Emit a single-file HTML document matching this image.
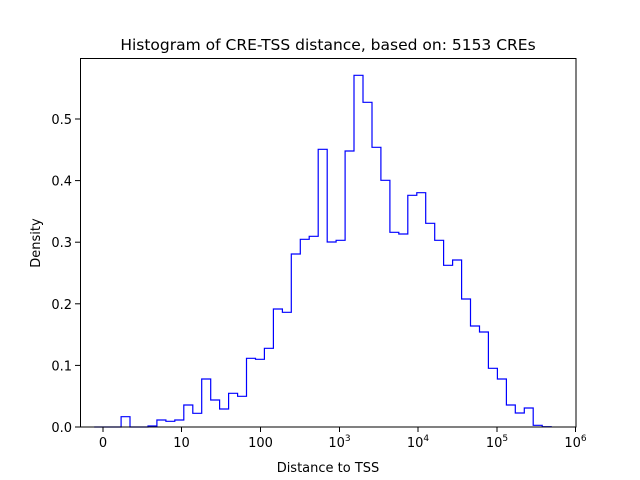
<!DOCTYPE html>
<html><head><meta charset="utf-8"><style>
html,body{margin:0;padding:0;background:#fff;}
svg{display:block;font-family:"DejaVu Sans","Liberation Sans",sans-serif;}
</style></head><body>
<svg width="640" height="480" viewBox="0 0 640 480" xmlns="http://www.w3.org/2000/svg">
<rect width="640" height="480" fill="#fff"/>
<path d="M94.2,427 H121.1 V416.7 H130.0 V427 H148.0 V426 H156.9 V420 H165.9 V421.3 H174.8 V420 H183.8 V405 H192.8 V413.3 H201.7 V379 H210.7 V400 H219.6 V409 H228.6 V393.3 H237.6 V396.3 H246.5 V358.3 H255.5 V359.3 H264.4 V348.3 H273.4 V309 H282.4 V312.3 H291.3 V254 H300.3 V239.3 H309.2 V236.3 H318.2 V149.3 H327.2 V242 H336.1 V240.3 H345.1 V151 H354.0 V75.3 H363.0 V102.3 H372.0 V147.3 H380.9 V180.3 H389.9 V232.3 H398.8 V234 H407.8 V195.3 H416.8 V192.7 H425.7 V223.3 H434.7 V240.3 H443.6 V265.3 H452.6 V260 H461.6 V299 H470.5 V326 H479.5 V332 H488.4 V368.3 H497.4 V379 H506.4 V405 H515.3 V413 H524.3 V408 H533.2 V425.3 H542.2 V426.7 H551.2 V427" fill="none" stroke="#0000ff" stroke-width="1.2"/>
<rect x="80.5" y="58.5" width="495.5" height="368.5" fill="none" stroke="#000" stroke-width="1"/>
<g stroke="#000" stroke-width="1">
<line x1="80" y1="427" x2="75" y2="427"/><line x1="80" y1="365.4" x2="75" y2="365.4"/><line x1="80" y1="303.8" x2="75" y2="303.8"/><line x1="80" y1="242.2" x2="75" y2="242.2"/><line x1="80" y1="180.6" x2="75" y2="180.6"/><line x1="80" y1="119" x2="75" y2="119"/>
<line x1="103" y1="427" x2="103" y2="432"/><line x1="181.5" y1="427" x2="181.5" y2="432"/><line x1="260.5" y1="427" x2="260.5" y2="432"/><line x1="339.5" y1="427" x2="339.5" y2="432"/><line x1="418" y1="427" x2="418" y2="432"/><line x1="497" y1="427" x2="497" y2="432"/><line x1="575.5" y1="427" x2="575.5" y2="432"/>
</g>
<g font-size="13" fill="#000" text-anchor="end">
<text x="72" y="432">0.0</text><text x="72" y="370.4">0.1</text><text x="72" y="308.8">0.2</text><text x="72" y="247.2">0.3</text><text x="72" y="185.6">0.4</text><text x="72" y="124">0.5</text>
</g>
<g font-size="13" fill="#000" text-anchor="middle">
<text x="103" y="447">0</text><text x="181.5" y="447">10</text><text x="260.5" y="447">100</text>
<text x="339.5" y="447">10<tspan font-size="9" dy="-6">3</tspan></text>
<text x="418" y="447">10<tspan font-size="9" dy="-6">4</tspan></text>
<text x="497" y="447">10<tspan font-size="9" dy="-6">5</tspan></text>
<text x="575.5" y="447">10<tspan font-size="9" dy="-6">6</tspan></text>
<text x="328" y="472">Distance to TSS</text>
<text x="328" y="50" font-size="15.5">Histogram of CRE-TSS distance, based on: 5153 CREs</text>
<text transform="translate(40,243) rotate(-90)">Density</text>
</g>
</svg>
</body></html>
